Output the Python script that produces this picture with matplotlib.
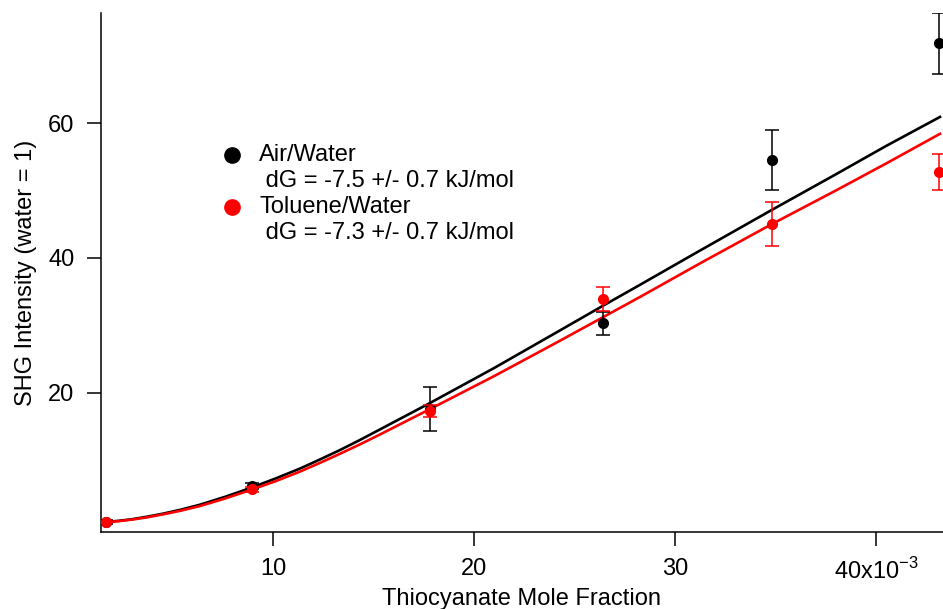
import matplotlib
matplotlib.use("Agg")
import matplotlib.pyplot as plt

plt.rcParams['font.family'] = ['Liberation Sans', 'DejaVu Sans']

# Data (x in units of 1e-3 mole fraction)
x_data = [1.7, 8.95, 17.8, 26.4, 34.8, 43.15]
air_y = [0.9, 6.2, 17.6, 30.3, 54.5, 71.8]
air_err = [0.3, 0.5, 3.3, 1.7, 4.45, 4.55]
tol_y = [0.9, 5.7, 17.3, 33.9, 45.1, 52.7]
tol_err = [0.2, 0.4, 0.9, 1.8, 3.25, 2.7]

# Fit curves
fit_x = [1.7, 2.3, 3.0, 3.7, 4.5, 5.4, 6.37, 7.6, 8.86, 10.1, 11.34, 12.3,
         13.3, 14.3, 15.32, 17.8, 21.0, 24.0, 26.4, 28.3, 31.24, 34.8,
         38.0, 40.5, 43.18]
air_fit = [0.9, 1.05, 1.3, 1.65, 2.1, 2.7, 3.45, 4.6, 5.9, 7.3, 8.8, 10.1,
           11.5, 13.0, 14.6, 18.5, 23.7, 28.8, 32.9, 36.1, 41.1, 47.1,
           52.4, 56.6, 60.9]
tol_fit = [0.85, 1.0, 1.25, 1.55, 2.0, 2.55, 3.25, 4.35, 5.6, 6.9, 8.35, 9.6,
           10.95, 12.35, 13.85, 17.6, 22.5, 27.3, 31.2, 34.3, 39.2, 45.0,
           50.0, 54.0, 58.4]

x_ticks = [10, 20, 30, 40]
x_ticklabels = ['10', '20', '30', r'40x10$^{\mathregular{-3}}$']
y_ticks = [20, 40, 60]

legend_labels = ['Air/Water', 'Toluene/Water']
legend_dg = [' dG = -7.5 +/- 0.7 kJ/mol', ' dG = -7.3 +/- 0.7 kJ/mol']
colors = ['black', '#ff0000']

fig = plt.figure(figsize=(9.43, 6.09), dpi=100)
ax = fig.add_axes([101/943, 1 - 532/609, 1 - 101/943, (532 - 13)/609])

ax.plot(fit_x, air_fit, color=colors[0], lw=1.9, zorder=3)
ax.plot(fit_x, tol_fit, color=colors[1], lw=1.9, zorder=3)

ax.errorbar(x_data, air_y, yerr=air_err, fmt='o', color=colors[0], ms=7,
            elinewidth=1.1, capsize=5, capthick=1.1, zorder=4)
ax.errorbar(x_data, tol_y, yerr=tol_err, fmt='o', color=colors[1], ms=7,
            elinewidth=1.1, capsize=5, capthick=1.1, zorder=5)

ax.set_xlim(1.44, 43.33)
ax.set_ylim(-0.6, 76.3)

ax.set_xticks(x_ticks)
ax.set_xticklabels(x_ticklabels)
ax.set_yticks(y_ticks)
ax.tick_params(direction='out', length=10, width=1.1, labelsize=17, pad=9)

for s in ['top', 'right']:
    ax.spines[s].set_visible(False)
for s in ['left', 'bottom']:
    ax.spines[s].set_linewidth(1.1)

ax.set_xlabel('Thiocyanate Mole Fraction', fontsize=17, labelpad=3)
ax.set_ylabel('SHG Intensity (water = 1)', fontsize=17, labelpad=8)

# Legend (manual)
rows_y = [155, 207]
for i in range(2):
    yp = rows_y[i]
    fig.lines.append(plt.Line2D([232/943], [1 - yp/609], transform=fig.transFigure,
                                marker='o', ms=11, color=colors[i], ls='none'))
    fig.text(259/943, 1 - yp/609, legend_labels[i], fontsize=17, va='center', ha='left')
    fig.text(259/943, 1 - (yp + 26)/609, legend_dg[i], fontsize=17, va='center', ha='left')

fig.savefig('out.png', dpi=100)
